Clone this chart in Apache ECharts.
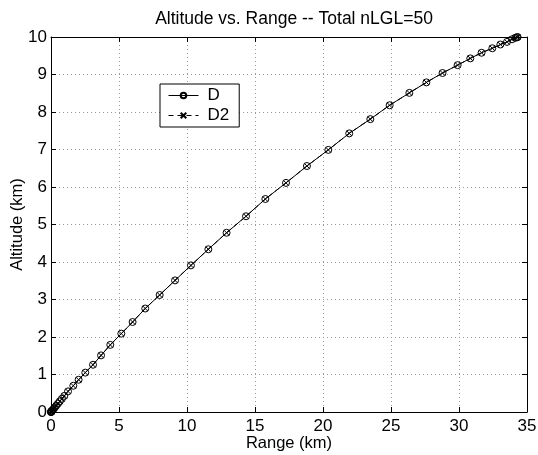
<!DOCTYPE html>
<html>
<head>
<meta charset="utf-8">
<script src="https://cdn.jsdelivr.net/npm/echarts@6/dist/echarts.min.js"></script>
<style>
  html, body { margin: 0; padding: 0; background: #fff; }
  #chart { width: 538px; height: 455px; }
</style>
</head>
<body>
<div id="chart"></div>
<script>
// range (km) at each LGL node
const rangeKm = [
  0, 0.002, 0.01, 0.025, 0.05, 0.09, 0.14, 0.21, 0.29, 0.39,
  0.51, 0.64, 0.80, 0.98, 1.25, 1.64, 2.03, 2.52, 3.09, 3.68,
  4.36, 5.17, 6.00, 6.93, 7.99, 9.12, 10.29, 11.57, 12.91, 14.34,
  15.76, 17.28, 18.82, 20.39, 21.93, 23.48, 24.90, 26.35, 27.60, 28.79,
  29.90, 30.83, 31.66, 32.45, 33.04, 33.53, 33.90, 34.14, 34.26, 34.31
];
// altitude (km) at each node
const altitudeKm = [
  0, 0.001, 0.004, 0.011, 0.022, 0.04, 0.062, 0.092, 0.128, 0.172,
  0.224, 0.282, 0.352, 0.43, 0.55, 0.70, 0.86, 1.05, 1.26, 1.51,
  1.79, 2.09, 2.40, 2.76, 3.12, 3.51, 3.91, 4.34, 4.78, 5.22,
  5.68, 6.11, 6.56, 6.99, 7.43, 7.81, 8.18, 8.51, 8.79, 9.04,
  9.25, 9.43, 9.58, 9.70, 9.80, 9.87, 9.94, 9.98, 9.99, 10.0
];
const seriesNames = ["D", "D2"];
const xRange = [0, 35, 5];
const yRange = [0, 10, 1];

const FONT = "Liberation Sans";
const pts = rangeKm.map((r, i) => [r, altitudeKm[i]]);

const myChart = echarts.init(document.getElementById("chart"));

// ticks inside on all 4 sides, like matlab
const mainAxis = {
  axisLine: { show: true, onZero: false, lineStyle: { color: "#000", width: 1 } },
  axisTick: { show: true, inside: true, length: 5, lineStyle: { color: "#000" } },
  axisLabel: { color: "#000", fontFamily: FONT, fontSize: 17 },
  splitLine: { show: true, lineStyle: { color: "#999", type: [1, 3], width: 1 } },
  nameMoveOverlap: false,
  nameTextStyle: { color: "#000", fontFamily: FONT, fontSize: 16.5 },
};
const mirrorAxis = {
  axisLine: { show: true, onZero: false, lineStyle: { color: "#000", width: 1 } },
  axisTick: { show: true, inside: true, length: 5, lineStyle: { color: "#000" } },
  axisLabel: { show: false },
  splitLine: { show: false },
};

myChart.setOption({
  animation: false,
  backgroundColor: "#fff",
  title: {
    text: "Altitude vs. Range -- Total nLGL=50",
    left: 289,
    textAlign: "center",
    top: 5,
    textStyle: { color: "#000", fontFamily: FONT, fontSize: 17.5, fontWeight: "normal" },
  },
  grid: { left: 51, right: 11, top: 37, bottom: 43, outerBoundsMode: "none" },
  legend: {
    data: seriesNames,
    orient: "vertical",
    left: 160,
    top: 84,
    backgroundColor: "#fff",
    borderColor: "#000",
    borderWidth: 1,
    padding: [3, 10, 3, 8],
    itemGap: 3,
    itemWidth: 30,
    itemHeight: 7,
    lineStyle: { width: 1 },
    textStyle: { color: "#000", fontFamily: FONT, fontSize: 17, padding: [0, 0, 0, 4] },
  },
  xAxis: [
    Object.assign({}, mainAxis, {
      type: "value", min: xRange[0], max: xRange[1], interval: xRange[2],
      axisLabel: Object.assign({}, mainAxis.axisLabel, { margin: 6 }),
      name: "Range (km)", nameLocation: "middle", nameGap: 23,
    }),
    Object.assign({}, mirrorAxis, {
      type: "value", position: "top", min: xRange[0], max: xRange[1], interval: xRange[2],
    }),
  ],
  yAxis: [
    Object.assign({}, mainAxis, {
      type: "value", min: yRange[0], max: yRange[1], interval: yRange[2],
      axisLabel: Object.assign({}, mainAxis.axisLabel, { margin: 4 }),
      name: "Altitude (km)", nameLocation: "middle", nameGap: 25,
    }),
    Object.assign({}, mirrorAxis, {
      type: "value", position: "right", min: yRange[0], max: yRange[1], interval: yRange[2],
    }),
  ],
  series: [
    {
      name: seriesNames[0],
      type: "line",
      data: pts,
      symbol: "circle",
      symbolSize: 7,
      showAllSymbol: true,
      lineStyle: { color: "#000", width: 1 },
      itemStyle: { color: "rgba(0,0,0,0)", borderColor: "#000", borderWidth: 1 },
    },
    {
      name: seriesNames[1],
      type: "line",
      data: pts,
      symbol: "path://M0,0L10,10M10,0L0,10",
      symbolSize: 5,
      showAllSymbol: true,
      lineStyle: { color: "#000", width: 1, type: [5, 4] },
      itemStyle: { color: "rgba(0,0,0,0)", borderColor: "#000", borderWidth: 1 },
    },
  ],
});
</script>
</body>
</html>
